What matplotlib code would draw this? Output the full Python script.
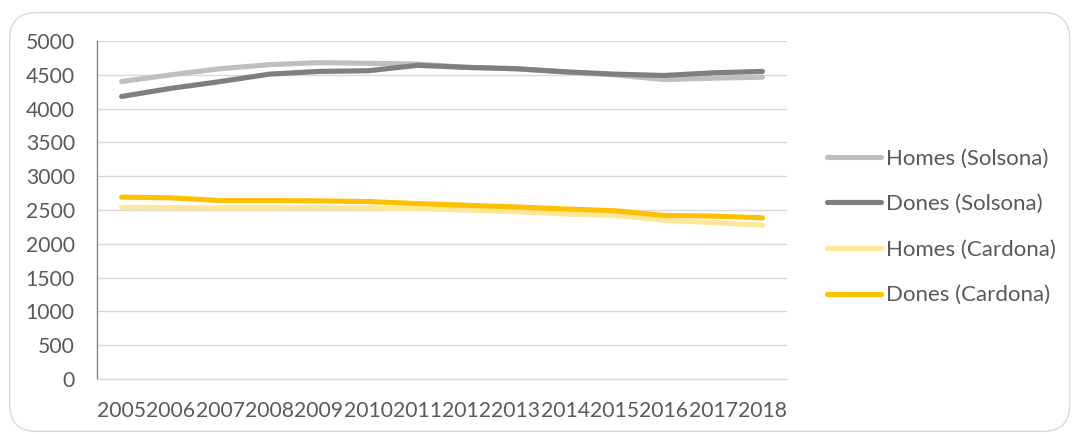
import matplotlib
matplotlib.use("Agg")
import matplotlib.pyplot as plt
from matplotlib.patches import FancyBboxPatch

years = ["2005", "2006", "2007", "2008", "2009", "2010", "2011",
         "2012", "2013", "2014", "2015", "2016", "2017", "2018"]
homes_solsona = [4400, 4500, 4590, 4650, 4680, 4670, 4660,
                 4610, 4590, 4540, 4500, 4430, 4450, 4465]
dones_solsona = [4180, 4300, 4400, 4510, 4550, 4560, 4640,
                 4610, 4590, 4545, 4510, 4490, 4530, 4550]
homes_cardona = [2540, 2535, 2530, 2530, 2535, 2530, 2520,
                 2500, 2475, 2440, 2420, 2350, 2315, 2275]
dones_cardona = [2690, 2680, 2640, 2640, 2635, 2625, 2595,
                 2570, 2545, 2515, 2490, 2420, 2410, 2385]
series_names = ["Homes (Solsona)", "Dones (Solsona)", "Homes (Cardona)", "Dones (Cardona)"]
y_ticks = [0, 500, 1000, 1500, 2000, 2500, 3000, 3500, 4000, 4500, 5000]

colors = ["#BFBFBF", "#7F7F7F", "#FFE699", "#FFC000"]
text_color = "#595959"

plt.rcParams['font.family'] = ['Lato', 'DejaVu Sans']

fig = plt.figure(figsize=(10.73, 4.34), dpi=100)
ax = fig.add_axes([0.0904, 0.1267, 0.6431, 0.7788])

x = list(range(len(years)))
for vals, c, name in zip([homes_solsona, dones_solsona, homes_cardona, dones_cardona],
                         colors, series_names):
    ax.plot(x, vals, color=c, lw=3.7, solid_capstyle='round',
            solid_joinstyle='round', label=name, zorder=3)

ax.set_xlim(-0.5, len(years) - 0.5)
ax.set_ylim(0, 5000)
ax.set_yticks(y_ticks)
ax.set_yticklabels([str(t) for t in y_ticks])
ax.set_xticks(x)
ax.set_xticklabels(years)
ax.grid(axis='y', color="#D9D9D9", lw=1.0, zorder=0)
ax.set_axisbelow(True)
for s in ['top', 'right']:
    ax.spines[s].set_visible(False)
ax.spines['bottom'].set_color("#D9D9D9")
ax.spines['bottom'].set_linewidth(1.0)
ax.spines['left'].set_color("#868686")
ax.spines['left'].set_linewidth(1.0)
ax.tick_params(axis='both', length=0, colors=text_color, labelsize=15.2)
ax.tick_params(axis='y', pad=16)
ax.tick_params(axis='x', pad=16)

leg = fig.legend(loc='center left', bbox_to_anchor=(0.7625, 0.477), frameon=False,
                 fontsize=16, handlelength=2.45, handletextpad=0.2,
                 labelspacing=1.15, borderaxespad=0)
for t in leg.get_texts():
    t.set_color(text_color)

border = FancyBboxPatch((0.009, 0.006), 0.988, 0.965, transform=fig.transFigure,
                        boxstyle="round,pad=0,rounding_size=0.025",
                        facecolor='none', edgecolor="#D9D9D9", lw=1.0,
                        mutation_aspect=1073 / 434)
fig.patches.append(border)

fig.savefig("out.png", dpi=100)
